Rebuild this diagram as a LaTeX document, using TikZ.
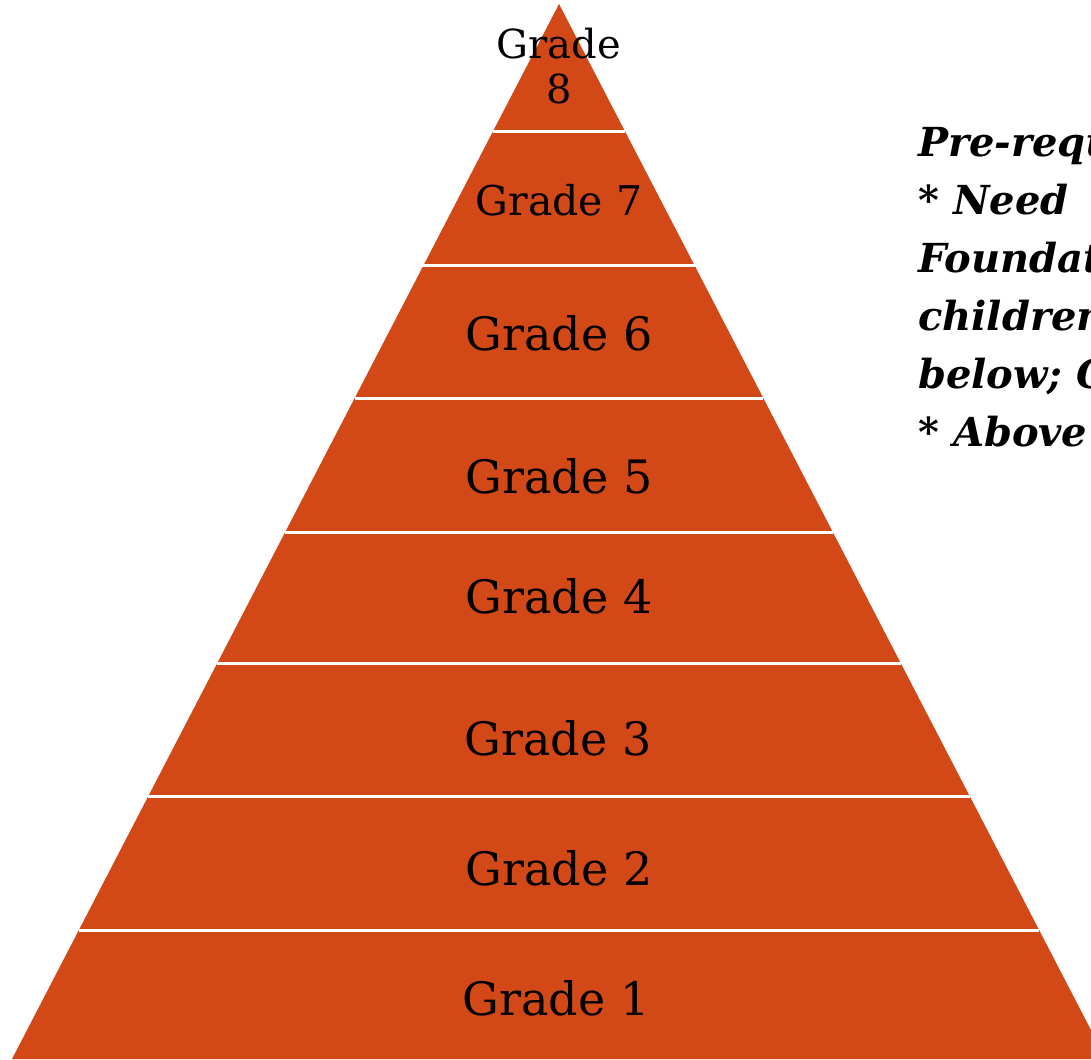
\documentclass[tikz,border=0pt]{standalone}
\usepackage{fontspec}
\setmainfont{DejaVu Serif}
\usetikzlibrary{calc}
\definecolor{layer}{RGB}{211,72,23}

\begin{document}
\begin{tikzpicture}[x=1pt,y=-1pt,
                    band/.style={fill=layer},
                    cut/.style={draw=white,line width=3pt},
                    grade/.style={font=\fontsize{46}{48}\selectfont,inner sep=0pt},
                    note/.style={font=\fontsize{40}{58}\selectfont\bfseries\itshape,
                                 align=left,anchor=north west,inner sep=0pt}]
  \useasboundingbox (0,0) rectangle (1091,1059);
  \clip (0,0) rectangle (1091,1059);

  % the pyramid, cut into eight layers
  \coordinate (apex) at (559,4);
  \coordinate (bl) at (12,1059);
  \coordinate (br) at (1106,1059);
  \fill[band] (apex) -- (bl) -- (br) -- cycle;
  \foreach \y in {132,266,398,532,664,797,930}{
    \pgfmathsetmacro\t{(\y-4)/1055}
    \draw[cut] ($(apex)!\t!(bl)$) -- ($(apex)!\t!(br)$);
  }

  \node[grade,font=\fontsize{40}{45}\selectfont,align=center] (g8) at (559,66) {Grade\\8};
  \node[grade,font=\fontsize{41}{44}\selectfont] (g7) at (559,200) {Grade 7};
  \node[grade] (g6) at (559,333) {Grade 6};
  \node[grade] (g5) at (559,476) {Grade 5};
  \node[grade] (g4) at (559,596) {Grade 4};
  \node[grade] (g3) at (558,738) {Grade 3};
  \node[grade] (g2) at (559,868) {Grade 2};
  \node[grade] (g1) at (556,998) {Grade 1};

  \node[note] (req) at (918,126) {Pre-requisite\\* Need\\Foundation\\children\\below; C\\* Above};
\end{tikzpicture}
\end{document}
